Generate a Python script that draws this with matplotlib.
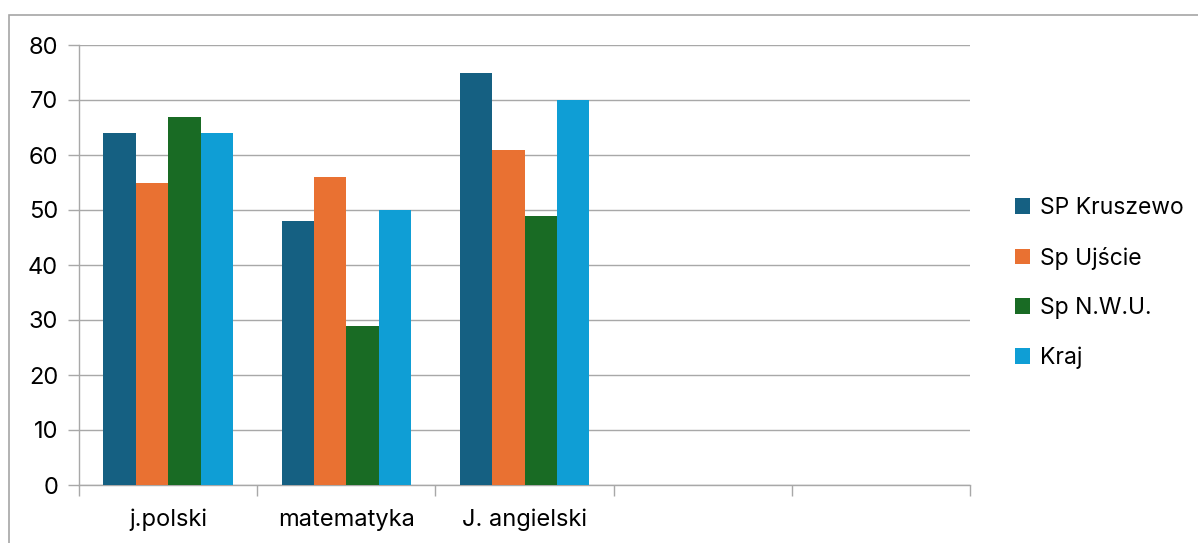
import numpy as np
import matplotlib.pyplot as plt
from matplotlib.patches import Rectangle

plt.rcParams['font.family'] = ['Inter', 'DejaVu Sans']

kategorie = ['j.polski', 'matematyka', 'J. angielski', '', '']
serie = ['SP Kruszewo', 'Sp Ujście', 'Sp N.W.U.', 'Kraj']
kruszewo = [64, 48, 75, None, None]
ujscie = [55, 56, 61, None, None]
nwu = [67, 29, 49, None, None]
kraj = [64, 50, 70, None, None]
kolory = ['#156082', '#E97132', '#196B24', '#0F9ED5']

W, H = 1198, 543
fig = plt.figure(figsize=(W / 100, H / 100), dpi=100)
ax = fig.add_axes([79 / W, 1 - 485 / H, (970 - 79) / W, (485 - 45) / H])

# ramka wykresu
fig.patches.append(Rectangle((9 / W, -0.1), 1.2, 1 - 15 / H + 0.1, transform=fig.transFigure,
                             fill=False, edgecolor='#A6A6A6', lw=1.2))

x = np.arange(len(kategorie))
szer = 1 / 5.5
uchwyty = []
for i, (dane, kol) in enumerate(zip([kruszewo, ujscie, nwu, kraj], kolory)):
    vals = [v if v is not None else 0 for v in dane]
    b = ax.bar(x + (i - 1.5) * szer, vals, width=szer, color=kol, label=serie[i], zorder=3)
    uchwyty.append(b)

ax.set_xlim(-0.5, len(kategorie) - 0.5)
ax.set_ylim(0, 80)
ax.set_yticks(range(0, 81, 10))
ax.grid(axis='y', color='#A8A8A8', lw=1, zorder=0)
ax.set_xticks(x)
ax.set_xticklabels(kategorie, fontsize=17)
ax.set_xticks(np.arange(-0.5, len(kategorie)), minor=True)
ax.tick_params(axis='x', which='major', length=0, pad=17)
ax.tick_params(axis='x', which='minor', length=8, color='#A8A8A8', width=1)
ax.tick_params(axis='y', length=8, color='#A8A8A8', width=1, labelsize=17, pad=7)
for s in ['top', 'right']:
    ax.spines[s].set_visible(False)
for s in ['left', 'bottom']:
    ax.spines[s].set_color('#A8A8A8')
    ax.spines[s].set_linewidth(1)

fig.legend(handles=uchwyty, loc='center left', bbox_to_anchor=(994 / W, 1 - 283 / H),
           frameon=False, fontsize=16.5, labelspacing=1.2, handlelength=0.65,
           handleheight=0.65, handletextpad=0.45)

fig.savefig('out.png', dpi=100)
